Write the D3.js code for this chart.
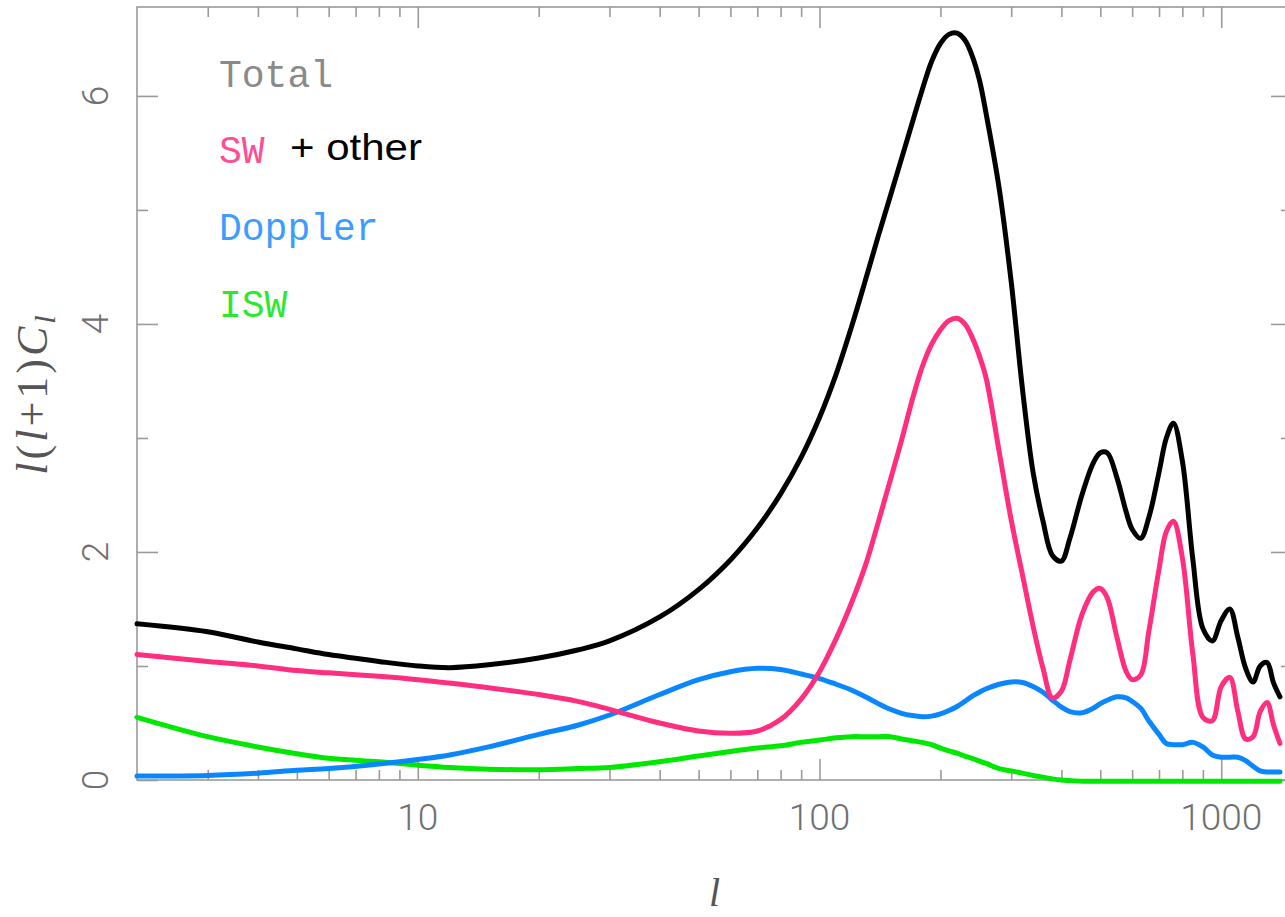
<!DOCTYPE html>
<html>
<head>
<meta charset="utf-8">
<script src="https://cdn.jsdelivr.net/npm/d3@7"></script>
<style>
  html, body { margin: 0; padding: 0; background: #fff; overflow: hidden; }
  svg { display: block; }
</style>
</head>
<body>
<svg id="chart" width="1285" height="917"></svg>
<script>
// Multipole moments l at which each spectrum is sampled
const ell = [2, 3, 4, 5, 6, 8, 10, 12, 15, 20, 25, 30, 40, 50, 60, 70, 80, 90,
  100, 110, 120, 130, 140, 150, 160, 170, 180, 190, 200, 210, 220, 230, 240, 250,
  260, 280, 300, 320, 340, 360, 380, 400, 420, 450, 480, 500, 520, 550, 580, 600,
  630, 660, 700, 730, 760, 800, 850, 900, 950, 1000, 1050, 1100, 1150, 1200,
  1250, 1300, 1350, 1400];

// l(l+1)C_l for each contribution
const total = [1.37, 1.30, 1.21, 1.15, 1.10, 1.04, 1.00, 0.985, 1.01, 1.07, 1.14, 1.22, 1.43, 1.67, 1.93, 2.21, 2.51, 2.83,
  3.18, 3.56, 3.97, 4.38, 4.77, 5.12, 5.45, 5.76, 6.05, 6.30, 6.46, 6.54, 6.55, 6.49, 6.35, 6.14,
  5.84, 5.19, 4.37, 3.43, 2.70, 2.27, 1.97, 1.92, 2.12, 2.50, 2.78, 2.87, 2.87, 2.65, 2.35, 2.20,
  2.12, 2.30, 2.70, 3.00, 3.13, 2.80, 1.93, 1.33, 1.22, 1.40, 1.50, 1.25, 0.98, 0.86,
  1.00, 1.03, 0.85, 0.73];

const sw = [1.10, 1.04, 1.00, 0.96, 0.94, 0.91, 0.88, 0.85, 0.81, 0.75, 0.69, 0.62, 0.50, 0.43, 0.41, 0.43, 0.53, 0.71,
  0.95, 1.24, 1.55, 1.88, 2.26, 2.63, 2.98, 3.33, 3.62, 3.82, 3.95, 4.03, 4.05, 4.00, 3.88, 3.72,
  3.52, 2.88, 2.28, 1.80, 1.35, 0.98, 0.72, 0.78, 1.05, 1.45, 1.65, 1.68, 1.60, 1.25, 0.95, 0.88,
  0.92, 1.30, 1.85, 2.18, 2.27, 1.95, 1.10, 0.55, 0.52, 0.82, 0.90, 0.60, 0.36, 0.38,
  0.60, 0.68, 0.48, 0.32];

const doppler = [0.035, 0.04, 0.06, 0.085, 0.10, 0.14, 0.18, 0.22, 0.29, 0.40, 0.48, 0.57, 0.75, 0.88, 0.95, 0.98, 0.97, 0.93,
  0.89, 0.84, 0.79, 0.73, 0.67, 0.62, 0.585, 0.565, 0.555, 0.56, 0.58, 0.61, 0.645, 0.69, 0.735, 0.77,
  0.80, 0.84, 0.86, 0.855, 0.82, 0.77, 0.70, 0.64, 0.60, 0.59, 0.63, 0.67, 0.70, 0.73, 0.72, 0.69,
  0.63, 0.52, 0.40, 0.32, 0.31, 0.31, 0.33, 0.29, 0.22, 0.20, 0.20, 0.20, 0.17, 0.12,
  0.08, 0.07, 0.07, 0.07];

const isw = [0.55, 0.38, 0.29, 0.23, 0.19, 0.16, 0.13, 0.11, 0.095, 0.09, 0.10, 0.11, 0.16, 0.21, 0.25, 0.28, 0.30, 0.33,
  0.35, 0.37, 0.38, 0.38, 0.38, 0.38, 0.36, 0.345, 0.33, 0.31, 0.28, 0.255, 0.235, 0.21, 0.19, 0.165,
  0.145, 0.10, 0.08, 0.06, 0.04, 0.025, 0.01, 0.00, -0.005, -0.01, -0.01, -0.01, -0.01, -0.01, -0.01, -0.01,
  -0.01, -0.01, -0.01, -0.01, -0.01, -0.01, -0.01, -0.01, -0.01, -0.01, -0.01, -0.01, -0.01, -0.01,
  -0.01, -0.01, -0.01, -0.01];

// Axis ticks
const xMajor = [10, 100, 1000];
const xMinor = [3, 4, 5, 6, 7, 8, 9, 20, 30, 40, 50, 60, 70, 80, 90, 200, 300, 400, 500, 600, 700, 800, 900];
const xLabels = ["10", "100", "1000"];
const yMajor = [0, 2, 4, 6];
const yMinor = [1, 3, 5];
const yLabels = ["0", "2", "4", "6"];

// Legend entries
const legendNames = ["Total", "SW", "Doppler", "ISW"];
const legendExtra = "+ other";

const colors = {
  total: "#000000",
  sw: "#ff2e7e",
  doppler: "#0a87ff",
  isw: "#00e800"
};
const legendColors = ["#8a8a8a", "#ff4d94", "#3d9cff", "#2ee82e"];

const svg = d3.select("#chart");
const plotLeft = 137, plotRight = 1292, plotTop = 7, plotBottom = 780;

const x = d3.scaleLog().domain([2, 1500]).range([plotLeft, plotRight]);
const y = d3.scaleLinear().domain([0, 6.78]).range([plotBottom, plotTop]);

const axisColor = "#9a9a9a";
const labelFont = "Roboto, 'DejaVu Sans', sans-serif";

// Frame
svg.append("rect")
  .attr("x", plotLeft).attr("y", plotTop)
  .attr("width", plotRight - plotLeft).attr("height", plotBottom - plotTop)
  .attr("fill", "none").attr("stroke", axisColor).attr("stroke-width", 1.6);

function styleAxis(g) {
  g.select(".domain").remove();
  g.selectAll(".tick line").attr("stroke", axisColor).attr("stroke-width", 1.6);
  g.selectAll(".tick text").remove();
}

// X ticks, bottom (pointing up) and top (pointing down)
svg.append("g").attr("transform", `translate(0,${plotBottom})`)
  .call(d3.axisBottom(x).tickValues(xMajor).tickSize(-21).tickFormat("")).call(styleAxis);
svg.append("g").attr("transform", `translate(0,${plotBottom})`)
  .call(d3.axisBottom(x).tickValues(xMinor).tickSize(-10).tickFormat("")).call(styleAxis);
svg.append("g").attr("transform", `translate(0,${plotTop})`)
  .call(d3.axisTop(x).tickValues(xMajor).tickSize(-21).tickFormat("")).call(styleAxis);
svg.append("g").attr("transform", `translate(0,${plotTop})`)
  .call(d3.axisTop(x).tickValues(xMinor).tickSize(-10).tickFormat("")).call(styleAxis);

// Y ticks, left and right (pointing inward)
svg.append("g").attr("transform", `translate(${plotLeft},0)`)
  .call(d3.axisLeft(y).tickValues(yMajor).tickSize(-21).tickFormat("")).call(styleAxis);
svg.append("g").attr("transform", `translate(${plotLeft},0)`)
  .call(d3.axisLeft(y).tickValues(yMinor).tickSize(-11).tickFormat("")).call(styleAxis);
svg.append("g").attr("transform", `translate(${plotRight},0)`)
  .call(d3.axisRight(y).tickValues(yMajor).tickSize(-21).tickFormat("")).call(styleAxis);
svg.append("g").attr("transform", `translate(${plotRight},0)`)
  .call(d3.axisRight(y).tickValues(yMinor).tickSize(-11).tickFormat("")).call(styleAxis);

// Tick labels
svg.append("g").selectAll("text").data(xMajor).join("text")
  .attr("x", d => x(d)).attr("y", 830)
  .attr("text-anchor", "middle")
  .attr("font-family", labelFont).attr("font-weight", 300)
  .attr("font-size", 37).attr("fill", "#707070")
  .text((d, i) => xLabels[i]);

svg.append("g").selectAll("text").data(yMajor).join("text")
  .attr("transform", d => `translate(108,${y(d)}) rotate(-90)`)
  .attr("text-anchor", "middle")
  .attr("font-family", labelFont).attr("font-weight", 300)
  .attr("font-size", 37).attr("fill", "#707070")
  .text((d, i) => yLabels[i]);

// Axis titles
const serif = "'Liberation Serif', 'DejaVu Serif', serif";
const yt = svg.append("text")
  .attr("transform", `translate(47,${(plotTop + plotBottom) / 2}) rotate(-90)`)
  .attr("text-anchor", "middle")
  .attr("font-family", serif).attr("font-size", 44).attr("fill", "#555")
  .attr("letter-spacing", 3);
yt.append("tspan").attr("font-style", "italic").text("l");
yt.append("tspan").text("(");
yt.append("tspan").attr("font-style", "italic").text("l");
yt.append("tspan").text("+1)");
yt.append("tspan").attr("font-style", "italic").text("C");
yt.append("tspan").attr("font-style", "italic").attr("font-size", 30).attr("dy", 8).text("l");

svg.append("text")
  .attr("x", (plotLeft + plotRight) / 2).attr("y", 906)
  .attr("text-anchor", "middle")
  .attr("font-family", serif).attr("font-style", "italic")
  .attr("font-size", 40).attr("fill", "#555")
  .text("l");

// Spectra
const series = [
  { values: isw, color: colors.isw },
  { values: doppler, color: colors.doppler },
  { values: sw, color: colors.sw },
  { values: total, color: colors.total }
];

const line = d3.line()
  .x(d => x(d[0]))
  .y(d => y(d[1]))
  .curve(d3.curveCatmullRom.alpha(0.5));

svg.append("g").selectAll("path").data(series).join("path")
  .attr("d", s => line(ell.map((l, i) => [l, s.values[i]])))
  .attr("fill", "none")
  .attr("stroke", s => s.color)
  .attr("stroke-width", 5)
  .attr("stroke-linejoin", "round")
  .attr("stroke-linecap", "round");

// Legend
const mono = "'Liberation Mono', 'DejaVu Sans Mono', monospace";
const legendY = [87, 163, 240, 317];
svg.append("g").selectAll("text").data(legendNames).join("text")
  .attr("x", 219).attr("y", (d, i) => legendY[i])
  .attr("font-family", mono).attr("font-size", 38)
  .attr("fill", (d, i) => legendColors[i])
  .text(d => d);

svg.append("text")
  .attr("x", 290).attr("y", 160)
  .attr("font-family", "'Liberation Sans', Arial, sans-serif")
  .attr("font-size", 37).attr("fill", "#000")
  .attr("textLength", 132).attr("lengthAdjust", "spacingAndGlyphs")
  .text(legendExtra);
</script>
</body>
</html>
